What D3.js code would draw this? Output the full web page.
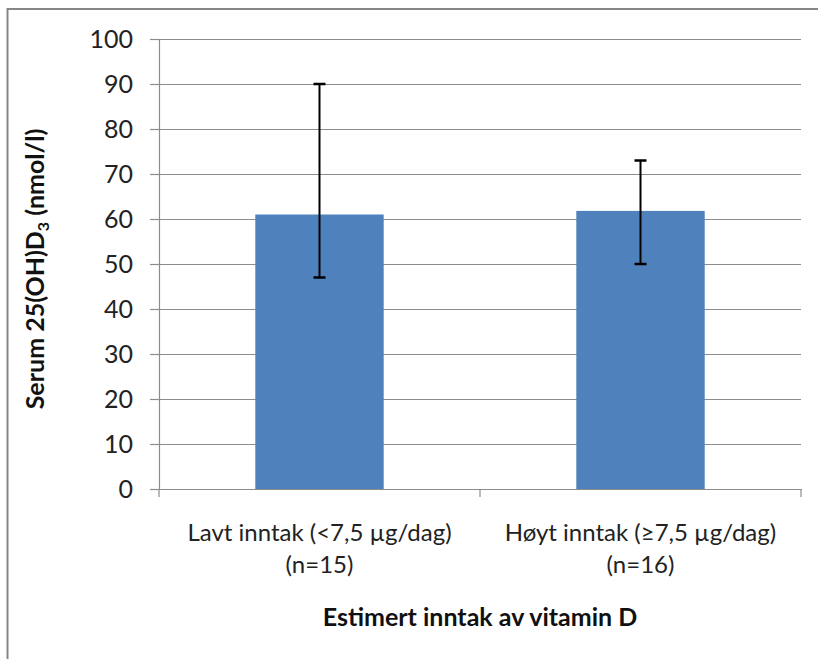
<!DOCTYPE html>
<html>
<head>
<meta charset="utf-8">
<script src="https://cdn.jsdelivr.net/npm/d3@7"></script>
<style>
  body { margin: 0; background: #fff; }
  svg { display: block; font-family: Lato, "Open Sans", sans-serif; }
</style>
</head>
<body>
<svg width="818" height="659"></svg>
<script>
var categories = ["Lavt inntak (<7,5 µg/dag)|(n=15)", "Høyt inntak (≥7,5 µg/dag)|(n=16)"];
var means = [61, 61.8];
var errLow = [47, 50];
var errHigh = [90, 73];
var yTicks = [0, 10, 20, 30, 40, 50, 60, 70, 80, 90, 100];

var svg = d3.select("svg"),
    margin = { top: 39, right: 17, bottom: 170, left: 159 },
    width = +svg.attr("width") - margin.left - margin.right,
    height = +svg.attr("height") - margin.top - margin.bottom;

// outer frame
svg.append("rect")
  .attr("x", 7.5).attr("y", 9)
  .attr("width", 830).attr("height", 680)
  .attr("fill", "none").attr("stroke", "#878787").attr("stroke-width", 2);

var x = d3.scaleBand().domain(categories).range([0, width]).paddingInner(0.6).paddingOuter(0.3);
var xAxisScale = d3.scaleBand().domain(categories).range([0, width]);
var y = d3.scaleLinear().domain([0, 100]).range([height, 0]);

var g = svg.append("g").attr("transform", "translate(" + margin.left + "," + margin.top + ")");

// gridlines
g.selectAll(".grid").data(yTicks.slice(1)).enter().append("line")
  .attr("x1", 0).attr("x2", width)
  .attr("y1", function (d) { return Math.round(y(d)) + 0.5; })
  .attr("y2", function (d) { return Math.round(y(d)) + 0.5; })
  .attr("stroke", "#8c8c8c").attr("stroke-width", 1.2);

// y axis
var yAxis = g.append("g").call(d3.axisLeft(y).tickValues(yTicks).tickSize(9).tickPadding(17));
yAxis.select(".domain").attr("stroke", "#8c8c8c").attr("stroke-width", 1.2);
yAxis.selectAll(".tick line").attr("stroke", "#8c8c8c").attr("stroke-width", 1.2);
yAxis.selectAll(".tick text").attr("font-size", 25).attr("fill", "#222").attr("font-family", "Lato, sans-serif");

// x axis
var xAxis = g.append("g").attr("transform", "translate(0," + height + ")")
  .call(d3.axisBottom(xAxisScale).tickSize(0).tickFormat(""));
xAxis.select(".domain").attr("stroke", "#8c8c8c").attr("stroke-width", 1.2);
var xTickPos = [0].concat(categories.map(function (c) { return xAxisScale(c) + xAxisScale.bandwidth(); }));
g.selectAll(".xtick").data(xTickPos).enter().append("line")
  .attr("x1", function (d) { return d; }).attr("x2", function (d) { return d; })
  .attr("y1", height).attr("y2", height + 8)
  .attr("stroke", "#8c8c8c").attr("stroke-width", 1.2);

// bars
g.selectAll(".bar").data(means).enter().append("rect")
  .attr("x", function (d, i) { return x(categories[i]); })
  .attr("width", x.bandwidth())
  .attr("y", function (d) { return y(d); })
  .attr("height", function (d) { return height - y(d); })
  .attr("fill", "#4f81bd");

// error bars
var eb = g.selectAll(".err").data(means).enter().append("g")
  .attr("transform", function (d, i) { return "translate(" + (x(categories[i]) + x.bandwidth() / 2) + ",0)"; });
eb.append("line")
  .attr("y1", function (d, i) { return y(errHigh[i]); })
  .attr("y2", function (d, i) { return y(errLow[i]); })
  .attr("stroke", "#000").attr("stroke-width", 2);
eb.append("line").attr("x1", -6).attr("x2", 6)
  .attr("y1", function (d, i) { return y(errHigh[i]); })
  .attr("y2", function (d, i) { return y(errHigh[i]); })
  .attr("stroke", "#000").attr("stroke-width", 2.5);
eb.append("line").attr("x1", -6).attr("x2", 6)
  .attr("y1", function (d, i) { return y(errLow[i]); })
  .attr("y2", function (d, i) { return y(errLow[i]); })
  .attr("stroke", "#000").attr("stroke-width", 2.5);

// category labels
var lab = g.selectAll(".cat").data(categories).enter().append("text")
  .attr("text-anchor", "middle").attr("font-size", 24).attr("fill", "#222")
  .attr("transform", function (d) { return "translate(" + (xAxisScale(d) + xAxisScale.bandwidth() / 2) + "," + (height + 52) + ")"; });
lab.selectAll("tspan").data(function (d) { return d.split("|"); }).enter().append("tspan")
  .attr("x", 0).attr("dy", function (d, i) { return i ? 32 : 0; })
  .text(function (d) { return d; });

// axis titles
svg.append("text")
  .attr("x", margin.left + width / 2).attr("y", 626)
  .attr("text-anchor", "middle").attr("font-size", 25).attr("font-weight", "bold").attr("fill", "#111")
  .text("Estimert inntak av vitamin D");

var yt = svg.append("text")
  .attr("transform", "translate(44," + (margin.top + height / 2 + 5) + ") rotate(-90)")
  .attr("text-anchor", "middle").attr("font-size", 25).attr("font-weight", "bold").attr("fill", "#111");
yt.append("tspan").text("Serum 25(OH)D");
yt.append("tspan").attr("font-size", 16).attr("dy", 5).text("3");
yt.append("tspan").attr("dy", -5).text(" (nmol/l)");
</script>
</body>
</html>
